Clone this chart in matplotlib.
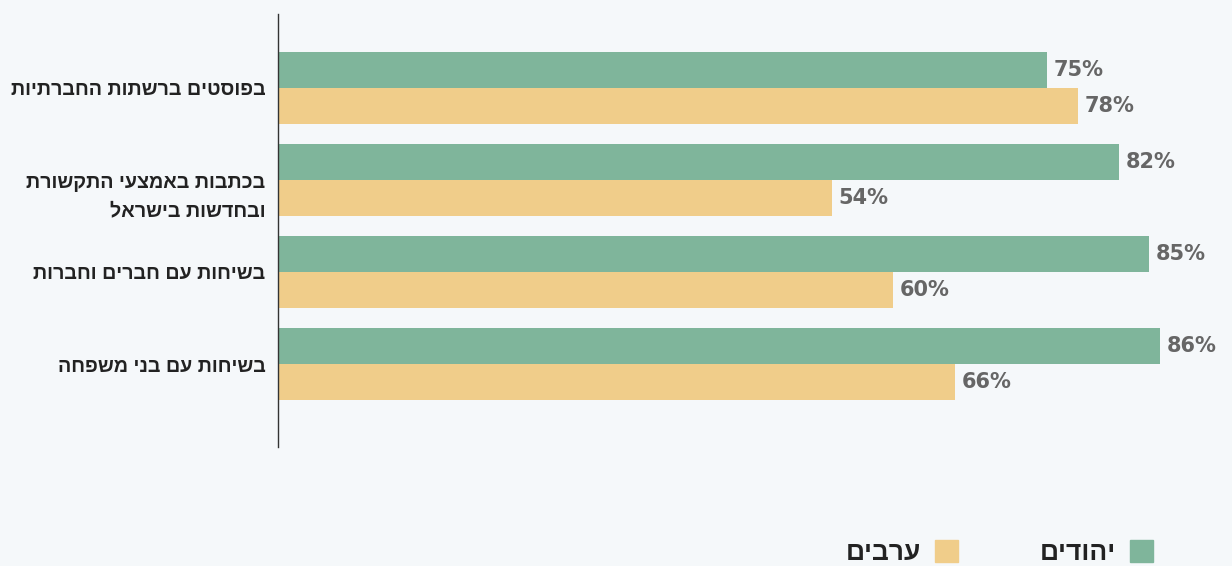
import numpy as np
import matplotlib.pyplot as plt
import matplotlib.transforms as mtransforms
from matplotlib.patches import Patch

BG = '#f5f8fa'
GREEN = '#7fb59b'
YELLOW = '#f0cd8a'

categories = ['בפוסטים ברשתות החברתיות',
              'בכתבות באמצעי התקשורת\nובחדשות בישראל',
              'בשיחות עם חברים וחברות',
              'בשיחות עם בני משפחה']
jews = [75, 82, 85, 86]
arabs = [78, 54, 60, 66]
series_names = ['יהודים', 'ערבים']


def rtl(s):
    # matplotlib has no bidi support, so flip each line by hand
    return '\n'.join(line[::-1] for line in s.split('\n'))


def plot():
    plt.rcParams['font.family'] = ['Liberation Sans', 'DejaVu Sans']
    fig = plt.figure(figsize=(12.32, 5.66), dpi=100, facecolor=BG)
    ax = fig.add_axes([278/1232, 1 - 447/566, 943/1232, 433/566])
    ax.set_facecolor(BG)

    y = np.arange(len(categories))
    h = 0.39
    b1 = ax.barh(y - h/2, jews, height=h, color=GREEN)
    b2 = ax.barh(y + h/2, arabs, height=h, color=YELLOW)

    for bars, vals in ((b1, jews), (b2, arabs)):
        for bar, v in zip(bars, vals):
            ax.annotate(f'{v}%', (bar.get_width(), bar.get_y() + bar.get_height()/2),
                        xytext=(5, 0), textcoords='offset points',
                        ha='left', va='center', fontsize=15, fontweight='bold',
                        color='#666666', family='DejaVu Sans')

    ax.set_xlim(0, 92)
    ax.set_ylim(3.9, -0.8)
    ax.set_yticks(y)
    ax.set_yticklabels([rtl(c) for c in categories], fontsize=14.2,
                       fontweight='bold', color='#222222', ma='right',
                       linespacing=1.6)
    ax.tick_params(axis='y', length=0, pad=9)
    # two-line label: first line sits on the group centre, like the original
    for lab in ax.get_yticklabels():
        n = lab.get_text().count('\n')
        if n:
            off = mtransforms.ScaledTranslation(0, -7.5 * n / 72, fig.dpi_scale_trans)
            lab.set_transform(lab.get_transform() + off)
    ax.set_xticks([])
    for s in ('top', 'right', 'bottom'):
        ax.spines[s].set_visible(False)
    ax.spines['left'].set_color('#333333')
    ax.spines['left'].set_linewidth(1)

    handles = [Patch(color=YELLOW), Patch(color=GREEN)]
    labels = [rtl(series_names[1]), rtl(series_names[0])]
    fig.legend(handles, labels, ncol=2, markerfirst=False, frameon=False,
               loc='lower right', bbox_to_anchor=(1 - 55/1232, -0.04),
               prop={'size': 19, 'weight': 'bold'}, labelcolor='#222222',
               handlelength=0.9, handleheight=0.9, columnspacing=3.1,
               handletextpad=0.5)

    fig.savefig('out.png', dpi=100, facecolor=BG)


def main():
    plot()
    return 0


if __name__ == "__main__":
    main()
